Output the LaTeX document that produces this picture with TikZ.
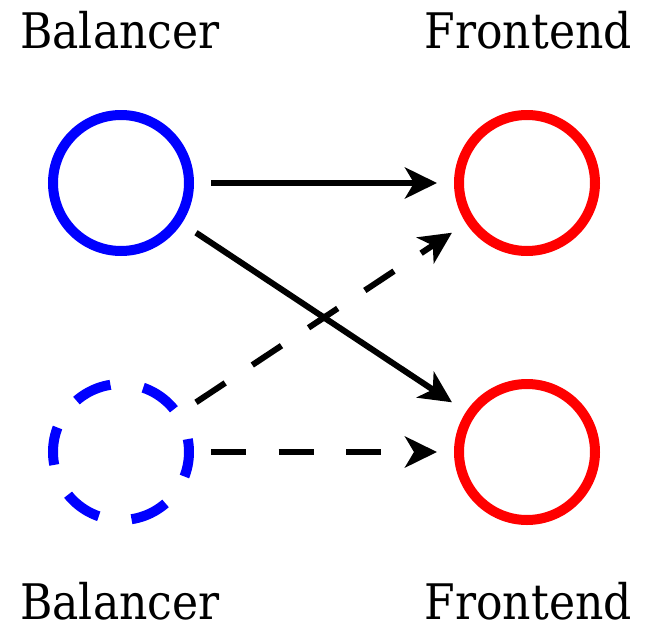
\documentclass[tikz,border=0pt]{standalone}
\usepackage{fontspec}
\setmainfont{DejaVu Serif}[FakeStretch=0.9]
\usetikzlibrary{arrows.meta}
\begin{document}
\begin{tikzpicture}[x=1pt,y=-1pt,
  label text/.style={inner sep=0pt, font=\fontsize{49}{52}\selectfont},
  balancer/.style={circle, draw=blue, line width=10pt, minimum size=136pt, inner sep=0pt},
  frontend/.style={circle, draw=red, line width=10pt, minimum size=136pt, inner sep=0pt},
  standby/.style={balancer, dash pattern=on 38pt off 33.2pt, dash phase=25pt},
  link/.style={line width=6pt, shorten <=17pt, shorten >=17pt,
    -{Stealth[length=32pt, width=31pt, inset=9pt]}},
  backup link/.style={link, dash pattern=on 35pt off 32.5pt}
]
\useasboundingbox (0,0) rectangle (654,627);

% circles
\node[balancer] (b1) at (121,183) {};
\node[standby]  (b2) at (121,452) {};
\node[frontend] (f1) at (527,183) {};
\node[frontend] (f2) at (527,452) {};

% labels
\node[label text, anchor=base west] (lb1) at (20,48)  {Balancer};
\node[label text, anchor=base east] (lf1) at (632,48) {Frontend};
\node[label text, anchor=base west] (lb2) at (20,619)  {Balancer};
\node[label text, anchor=base east] (lf2) at (632,619) {Frontend};

% connections
\draw[link] (b1) -- (f1);
\draw[link] (b1) -- (f2);
\draw[backup link] (b2) -- (f1);
\draw[backup link] (b2) -- (f2);
\end{tikzpicture}
\end{document}
